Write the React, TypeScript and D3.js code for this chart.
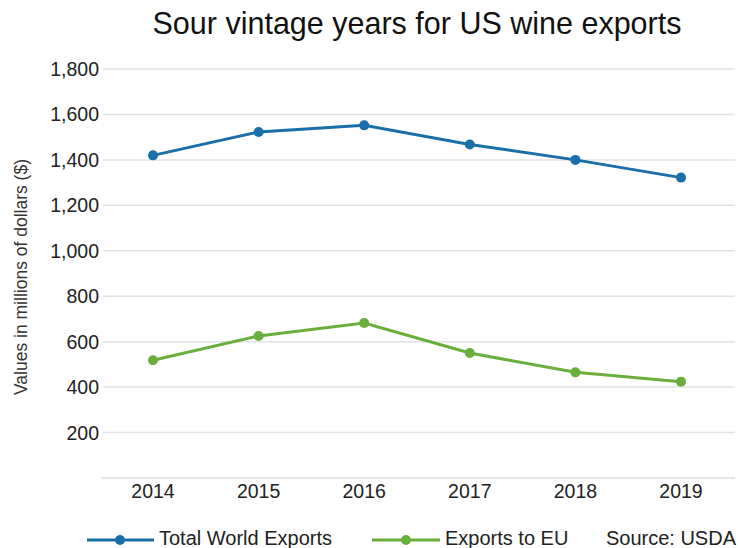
import React from "react";
import * as d3 from "d3";

const years = ["2014", "2015", "2016", "2017", "2018", "2019"];
const totalWorld = [1420, 1523, 1552, 1468, 1400, 1322];
const exportsEU = [518, 625, 682, 550, 465, 424];
const yTicks = [200, 400, 600, 800, 1000, 1200, 1400, 1600, 1800];

const W = 738;
const H = 548;
const BLUE = "#1b6fa8";
const GREEN = "#6aae3e";
const FONT = "'Liberation Sans', Arial, sans-serif";

export default function App() {
  const x = d3.scalePoint<string>().domain(years).range([153, 681]);
  const y = d3.scaleLinear().domain([0, 1800]).range([478, 69]);
  const line = d3
    .line<number>()
    .x((_, i) => x(years[i]) as number)
    .y((d) => y(d));
  const fmt = d3.format(",");
  const series = [
    { name: "Total World Exports", values: totalWorld, color: BLUE },
    { name: "Exports to EU", values: exportsEU, color: GREEN },
  ];
  return (
    <svg
      width={W}
      height={H}
      style={{ position: "absolute", left: 0, top: 0, background: "#fff" }}
      fontFamily={FONT}
    >
      <text x={417} y={34} textAnchor="middle" fontSize={30.5} fill="#111">
        Sour vintage years for US wine exports
      </text>
      {yTicks.map((t) => (
        <g key={t}>
          <line x1={103} x2={735} y1={y(t)} y2={y(t)} stroke="#e2e2e2" strokeWidth={1.5} />
          <text x={99} y={y(t) + 7} textAnchor="end" fontSize={19.5} fill="#222">
            {fmt(t)}
          </text>
        </g>
      ))}
      <line x1={101} x2={735} y1={y(0)} y2={y(0)} stroke="#dcdcdc" strokeWidth={1.5} />
      {years.map((yr) => (
        <text key={yr} x={x(yr)} y={498} textAnchor="middle" fontSize={19.5} fill="#222">
          {yr}
        </text>
      ))}
      <text
        transform={`translate(27,277) rotate(-90)`}
        textAnchor="middle"
        fontSize={17.5}
        fill="#333"
      >
        Values in millions of dollars ($)
      </text>
      {series.map((s) => (
        <g key={s.name}>
          <path d={line(s.values) || ""} fill="none" stroke={s.color} strokeWidth={3} />
          {s.values.map((v, i) => (
            <circle key={i} cx={x(years[i])} cy={y(v)} r={5} fill={s.color} />
          ))}
        </g>
      ))}
      <g>
        <line x1={87} x2={154} y1={540} y2={540} stroke={BLUE} strokeWidth={3} />
        <circle cx={120} cy={540} r={5} fill={BLUE} />
        <text x={159} y={545} fontSize={20} fill="#222">Total World Exports</text>
        <line x1={372} x2={440} y1={540} y2={540} stroke={GREEN} strokeWidth={3} />
        <circle cx={406} cy={540} r={5} fill={GREEN} />
        <text x={445} y={545} fontSize={20} fill="#222">Exports to EU</text>
        <text x={736} y={545} textAnchor="end" fontSize={20} fill="#222">Source: USDA</text>
      </g>
    </svg>
  );
}
